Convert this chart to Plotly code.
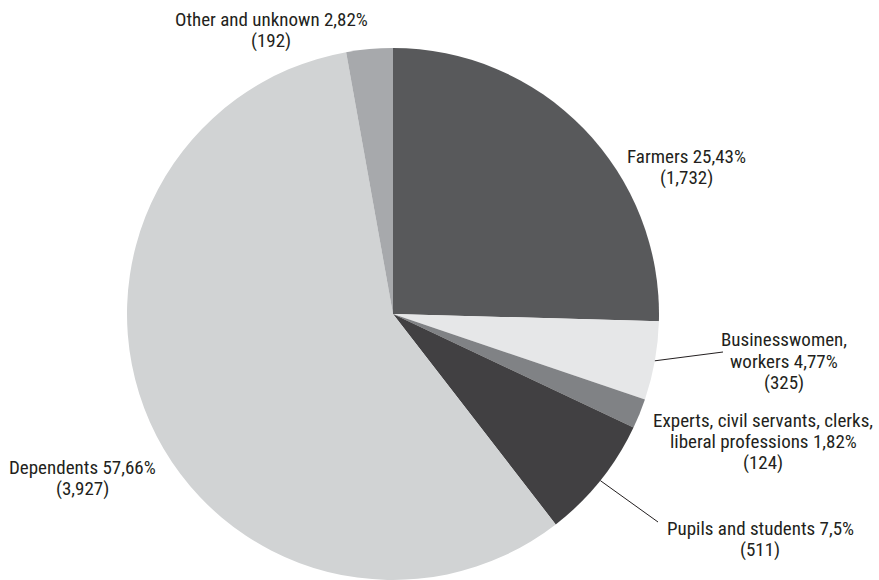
import math
import plotly.graph_objects as go

# Employment structure of the population
categories = [
    "Farmers",
    "Businesswomen, workers",
    "Experts, civil servants, clerks, liberal professions",
    "Pupils and students",
    "Dependents",
    "Other and unknown",
]
counts = [1732, 325, 124, 511, 3927, 192]
pct_labels = ["25,43%", "4,77%", "1,82%", "7,5%", "57,66%", "2,82%"]
count_labels = ["(1,732)", "(325)", "(124)", "(511)", "(3,927)", "(192)"]
colors = ["#58595b", "#e6e7e8", "#808285", "#414042", "#d1d3d4", "#a7a9ac"]

W, H = 879, 580
CX, CY, R = 393, 314, 266  # pie centre and radius in pixels

FONT = "Liberation Sans Narrow, Roboto Condensed, Arial Narrow, Roboto, sans-serif"
TEXT_COLOR = "#231f20"
FS = 19
LINE_GAP = 21

fig = go.Figure(
    go.Pie(
        labels=categories,
        values=counts,
        sort=False,
        direction="clockwise",
        rotation=0,
        marker=dict(colors=colors, line=dict(width=0)),
        textinfo="none",
        hoverinfo="label+value+percent",
        domain=dict(x=[(CX - R) / W, (CX + R) / W], y=[(H - CY - R) / H, (H - CY + R) / H]),
        showlegend=False,
    )
)


def px_to_paper(x, y):
    return x / W, 1 - y / H


annotations = []
shapes = []


def add_label(lines, cx, cy_first):
    for i, line in enumerate(lines):
        xp, yp = px_to_paper(cx, cy_first + i * LINE_GAP)
        annotations.append(
            dict(
                x=xp, y=yp, xref="paper", yref="paper", text=line,
                showarrow=False, xanchor="center", yanchor="middle",
                font=dict(family=FONT, size=FS, color=TEXT_COLOR),
            )
        )


# label blocks: text lines, horizontal centre, vertical centre of first line
label_layout = {
    0: ([f"{categories[0]} {pct_labels[0]}", count_labels[0]], 686, 156),
    1: (["Businesswomen,", f"workers {pct_labels[1]}", count_labels[1]], 784, 340),
    2: (["Experts, civil servants, clerks,", f"liberal professions {pct_labels[2]}", count_labels[2]], 763, 420),
    3: ([f"{categories[3]} {pct_labels[3]}", count_labels[3]], 760, 528),
    4: ([f"{categories[4]} {pct_labels[4]}", count_labels[4]], 82, 467),
    5: ([f"{categories[5]} {pct_labels[5]}", count_labels[5]], 271, 19),
}
for idx, (lines, lx, ly) in label_layout.items():
    add_label(lines, lx, ly)

# leader lines from slice mid-angle on the rim to the label
total = sum(counts)
cum = 0
mids = []
for v in counts:
    mids.append((cum + v / 2) / total * 2 * math.pi)
    cum += v

leader_ends = {1: (723, 352), 3: (658, 522)}
for idx, (ex, ey) in leader_ends.items():
    a = mids[idx]
    sx = CX + R * math.sin(a)
    sy = CY - R * math.cos(a)
    x0, y0 = px_to_paper(sx, sy)
    x1, y1 = px_to_paper(ex, ey)
    shapes.append(
        dict(type="line", xref="paper", yref="paper", x0=x0, y0=y0, x1=x1, y1=y1,
             line=dict(color=TEXT_COLOR, width=1))
    )

fig.update_layout(
    width=W,
    height=H,
    margin=dict(l=0, r=0, t=0, b=0),
    paper_bgcolor="white",
    plot_bgcolor="white",
    annotations=annotations,
    shapes=shapes,
)

fig.write_html("out.html")
